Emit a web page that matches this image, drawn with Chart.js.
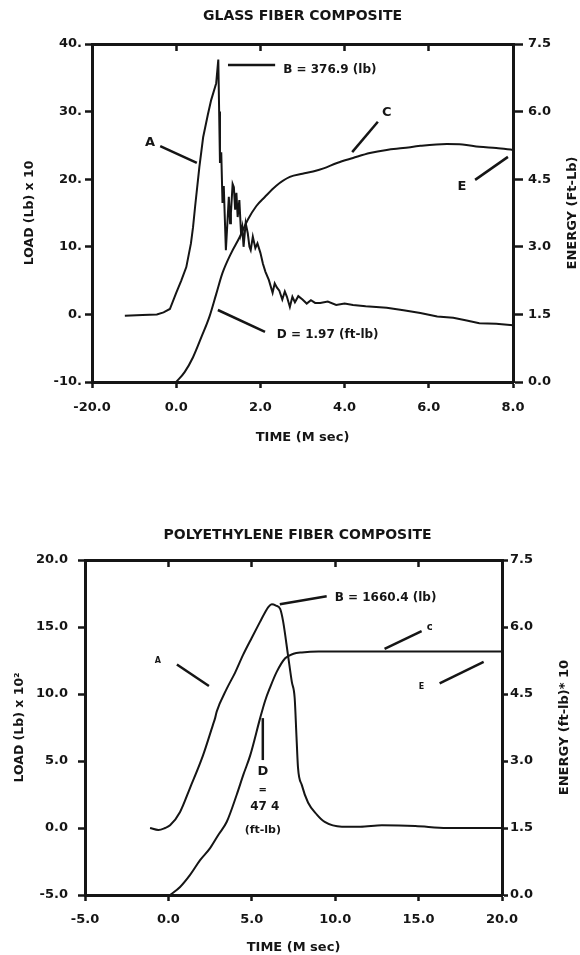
<!DOCTYPE html>
<html><head><meta charset="utf-8">
<script src="https://cdn.jsdelivr.net/npm/chart.js@4"></script>
<style>
html,body{margin:0;padding:0;background:#fff;width:580px;height:955px;overflow:hidden;}
.wrap{position:absolute;left:0;}
canvas{display:block;}
</style></head><body>
<div class="wrap" style="top:0px"><canvas id="c1" width="580" height="460"></canvas></div>
<div class="wrap" style="top:478px"><canvas id="c2" width="580" height="477"></canvas></div>
<script>
// ---------- GLASS FIBER COMPOSITE ----------
const glassTime = [-1.22,-0.8,-0.46,-0.3,-0.15,0.0,0.12,0.24,0.35,0.4,0.45,0.55,0.64,0.75,0.83,0.95,1.0,1.02,1.04,1.07,1.1,1.13,1.18,1.22,1.25,1.28,1.3,1.34,1.37,1.4,1.43,1.46,1.5,1.54,1.57,1.6,1.65,1.7,1.74,1.77,1.82,1.88,1.93,2.0,2.06,2.12,2.2,2.29,2.34,2.39,2.45,2.52,2.58,2.63,2.7,2.76,2.82,2.9,3.0,3.1,3.2,3.3,3.42,3.6,3.8,4.0,4.2,4.5,5.0,5.4,5.8,6.2,6.58,6.9,7.2,7.6,8.0];
const glassLoad = [-0.2,-0.1,0.0,0.3,0.8,3.2,5.0,7.0,10.5,12.9,16.0,21.8,26.2,29.5,31.7,34.2,37.7,30.0,22.4,24.0,16.5,19.0,9.5,14.0,17.4,13.5,15.0,19.3,18.8,15.5,18.0,14.4,16.9,12.0,12.9,10.0,13.5,12.0,10.0,9.5,11.5,9.8,10.5,9.1,7.5,6.3,5.1,3.2,4.6,4.0,3.5,2.2,3.4,2.6,1.1,2.6,1.8,2.7,2.2,1.6,2.1,1.7,1.7,1.9,1.4,1.6,1.4,1.2,1.0,0.6,0.2,-0.3,-0.5,-0.9,-1.3,-1.4,-1.6];
const glassEnergyTime = [0.0,0.2,0.4,0.6,0.79,0.95,1.1,1.3,1.5,1.7,1.9,2.1,2.37,2.7,3.0,3.25,3.5,3.82,4.2,4.6,5.0,5.39,5.8,6.43,6.8,7.2,7.6,8.0];
const glassEnergy = [0.0,0.22,0.55,1.0,1.45,1.95,2.42,2.85,3.2,3.6,3.9,4.1,4.35,4.55,4.62,4.67,4.74,4.86,4.97,5.08,5.15,5.19,5.24,5.28,5.27,5.22,5.19,5.15];
const glassTimeTicks = ['-20.0','0.0','2.0','4.0','6.0','8.0'];
const glassLoadTicks = ['-10.','0.','10.','20.','30.','40.'];
const glassEnergyTicks = ['0.0','1.5','3.0','4.5','6.0','7.5'];

// ---------- POLYETHYLENE FIBER COMPOSITE ----------
const polyTime = [-1.1,-0.6,-0.2,0.1,0.7,1.3,2.07,2.67,2.8,2.9,3.5,4.0,4.47,5.0,5.5,5.8,6.0,6.2,6.45,6.7,6.88,7.17,7.4,7.57,7.68,7.77,8.0,8.37,8.9,9.37,10.4,11.5,12.8,14.8,16.7,18.0,20.0];
const polyLoad = [0.0,-0.15,0.0,0.2,1.2,3.0,5.4,7.7,8.2,8.7,10.4,11.6,12.9,14.2,15.4,16.1,16.5,16.7,16.6,16.35,15.4,12.9,10.9,9.7,6.8,4.5,3.2,1.9,1.0,0.45,0.1,0.1,0.2,0.15,0.0,0.0,0.0];
const polyEnergyTime = [0.1,0.7,1.3,1.9,2.5,3.0,3.5,4.1,4.5,4.9,5.5,5.8,6.1,6.5,7.0,7.5,8.0,9.0,20.0];
const polyEnergy = [0.0,0.18,0.45,0.78,1.05,1.35,1.64,2.25,2.7,3.12,3.96,4.35,4.65,5.0,5.3,5.4,5.43,5.45,5.45];
const polyTimeTicks = ['-5.0','0.0','5.0','10.0','15.0','20.0'];
const polyLoadTicks = ['-5.0','0.0','5.0','10.0','15.0','20.0'];
const polyEnergyTicks = ['0.0','1.5','3.0','4.5','6.0','7.5'];

const INK = '#151515';
const FAM = "'DejaVu Sans', sans-serif";
const F = (size) => ({ family: FAM, size: size, weight: 'bold' });
const pts = (xs, ys) => xs.map((x, i) => ({ x: x, y: ys[i] }));
const lab = (arr, min, step) => (v) => arr[Math.round((v - min) / step)] ?? '';

function build(id, o) {
  const annot = {
    id: 'annot',
    afterDraw(chart) {
      const c = chart.ctx, a = chart.chartArea, sx = chart.scales.x, sy = chart.scales.y;
      c.save();
      c.fillStyle = INK; c.strokeStyle = INK;
      // chart title
      c.font = 'bold 14px ' + FAM; c.textAlign = 'center'; c.textBaseline = 'middle';
      c.fillText(o.title, (a.left + a.right) / 2 + o.titleDx, a.top - o.titleGap);
      // right axis title (reads upward)
      c.save();
      c.translate(a.right + o.rTitleDx, (a.top + a.bottom) / 2);
      c.rotate(-Math.PI / 2);
      c.font = 'bold 13px ' + FAM;
      c.fillText(o.rTitle, 0, 0);
      c.restore();
      // annotations
      o.notes.forEach(n => {
        if (n.line) {
          c.lineWidth = 2.5; c.beginPath();
          c.moveTo(sx.getPixelForValue(n.line[0]), sy.getPixelForValue(n.line[1]));
          c.lineTo(sx.getPixelForValue(n.line[2]), sy.getPixelForValue(n.line[3]));
          c.stroke();
        } else {
          c.font = 'bold ' + n.size + 'px ' + FAM;
          c.textAlign = n.align || 'center'; c.textBaseline = 'middle';
          c.fillText(n.text, sx.getPixelForValue(n.at[0]), sy.getPixelForValue(n.at[1]));
        }
      });
      c.restore();
    }
  };
  const xTicks = { stepSize: o.xStep, callback: lab(o.xLabels, o.xMin, o.xStep), font: F(13), color: INK, padding: o.xPad, maxRotation: 0, autoSkip: false };
  return new Chart(document.getElementById(id), {
    type: 'line',
    data: { datasets: [
      { label: 'Load', data: pts(o.t, o.load), yAxisID: 'y', borderColor: INK, borderWidth: 2, pointRadius: 0,
        tension: o.smooth ? 0.4 : 0, cubicInterpolationMode: o.smooth ? 'monotone' : 'default' },
      { label: 'Energy', data: pts(o.et, o.e), yAxisID: 'y2', borderColor: INK, borderWidth: 2, pointRadius: 0,
        tension: 0.4, cubicInterpolationMode: 'monotone' }
    ]},
    options: {
      responsive: false, animation: false, devicePixelRatio: 1,
      layout: { padding: { top: o.top, left: 0, right: 0, bottom: 0 } },
      plugins: { legend: { display: false }, tooltip: { enabled: false }, title: { display: false } },
      scales: {
        x: { type: 'linear', position: 'bottom', min: o.xMin, max: o.xMax, ticks: xTicks,
             grid: { drawOnChartArea: false, tickLength: 6, tickWidth: 2.5, tickColor: INK },
             border: { width: 3, color: INK },
             title: { display: true, text: o.xTitle, font: F(13), color: INK, padding: { top: 0, bottom: o.xTitlePad } },
             afterFit: s => { s.height = o.xH; } },
        xTop: { type: 'linear', position: 'top', min: o.xMin, max: o.xMax,
             ticks: { stepSize: o.xStep, display: false },
             grid: { drawOnChartArea: false, tickLength: -7, tickWidth: 2.5, tickColor: INK },
             border: { width: 3, color: INK },
             afterFit: s => { s.height = 0; } },
        y: { type: 'linear', position: 'left', min: o.yMin, max: o.yMax,
             ticks: { stepSize: o.yStep, callback: lab(o.yLabels, o.yMin, o.yStep), font: F(13), color: INK, padding: o.yPad },
             grid: { drawOnChartArea: false, tickLength: 7, tickWidth: 2.5, tickColor: INK },
             border: { width: 3, color: INK },
             title: { display: true, text: o.yTitle, font: F(12.5), color: INK, padding: { top: o.yTitlePad, bottom: 0 } },
             afterFit: s => { s.width = o.yW; } },
        y2: { type: 'linear', position: 'right', min: 0, max: 7.5,
             ticks: { stepSize: 1.5, callback: lab(o.y2Labels, 0, 1.5), font: F(13), color: INK, padding: o.y2Pad },
             grid: { drawOnChartArea: false, tickLength: o.y2Tick, tickWidth: 2.5, tickColor: INK },
             border: { width: 3, color: INK },
             afterFit: s => { s.width = o.y2W; } }
      }
    },
    plugins: [annot]
  });
}

build('c1', {
  t: glassTime, load: glassLoad, et: glassEnergyTime, e: glassEnergy, smooth: false,
  top: 44, xH: 78, yW: 92, y2W: 67,
  xMin: -2, xMax: 8, xStep: 2, xLabels: glassTimeTicks, xPad: 12, xTitle: 'TIME (M sec)', xTitlePad: 15,
  yMin: -10, yMax: 40, yStep: 10, yLabels: glassLoadTicks, yPad: 3, yTitle: 'LOAD (Lb) x 10', yTitlePad: 22.5,
  y2Labels: glassEnergyTicks, y2Pad: 5, y2Tick: 10,
  title: 'GLASS FIBER COMPOSITE', titleDx: 0, titleGap: 28, rTitle: 'ENERGY (Ft-Lb)', rTitleDx: 60,
  notes: [
    { line: [1.23, 36.9, 2.35, 36.9] },
    { text: 'B = 376.9 (lb)', at: [2.54, 36.1], size: 12, align: 'left' },
    { text: 'A', at: [-0.62, 25.4], size: 13 },
    { line: [-0.38, 24.9, 0.49, 22.4] },
    { text: 'C', at: [5.0, 29.9], size: 13 },
    { line: [4.79, 28.5, 4.18, 24.0] },
    { text: 'E', at: [6.79, 18.85], size: 13 },
    { line: [7.1, 19.9, 7.88, 23.3] },
    { line: [0.99, 0.65, 2.11, -2.6] },
    { text: 'D = 1.97 (ft-lb)', at: [2.39, -3.0], size: 12, align: 'left' }
  ]
});

build('c2', {
  t: polyTime, load: polyLoad, et: polyEnergyTime, e: polyEnergy, smooth: true,
  top: 82, xH: 60, yW: 85, y2W: 78,
  xMin: -5, xMax: 20, xStep: 5, xLabels: polyTimeTicks, xPad: 11, xTitle: 'TIME (M sec)', xTitlePad: 0,
  yMin: -5, yMax: 20, yStep: 5, yLabels: polyLoadTicks, yPad: 10, yTitle: 'LOAD (Lb) x 10\u00B2', yTitlePad: 12.5,
  y2Labels: polyEnergyTicks, y2Pad: 2, y2Tick: 6,
  title: 'POLYETHYLENE FIBER COMPOSITE', titleDx: 4, titleGap: 25, rTitle: 'ENERGY (ft-lb)* 10', rTitleDx: 63,
  notes: [
    { line: [6.68, 16.7, 9.49, 17.3] },
    { text: 'B = 1660.4 (lb)', at: [9.97, 17.2], size: 12, align: 'left' },
    { text: 'A', at: [-0.63, 12.5], size: 8 },
    { line: [0.51, 12.2, 2.43, 10.6] },
    { text: 'c', at: [15.66, 15.0], size: 10 },
    { line: [15.18, 14.7, 12.96, 13.36] },
    { text: 'E', at: [15.18, 10.5], size: 8 },
    { line: [16.26, 10.8, 18.9, 12.4] },
    { line: [5.66, 8.2, 5.66, 5.07] },
    { text: 'D', at: [5.66, 4.18], size: 13 },
    { text: '=', at: [5.66, 2.84], size: 10 },
    { text: '47 4', at: [5.78, 1.57], size: 12 },
    { text: '(ft-lb)', at: [5.66, -0.15], size: 11 }
  ]
});
</script>
</body></html>
